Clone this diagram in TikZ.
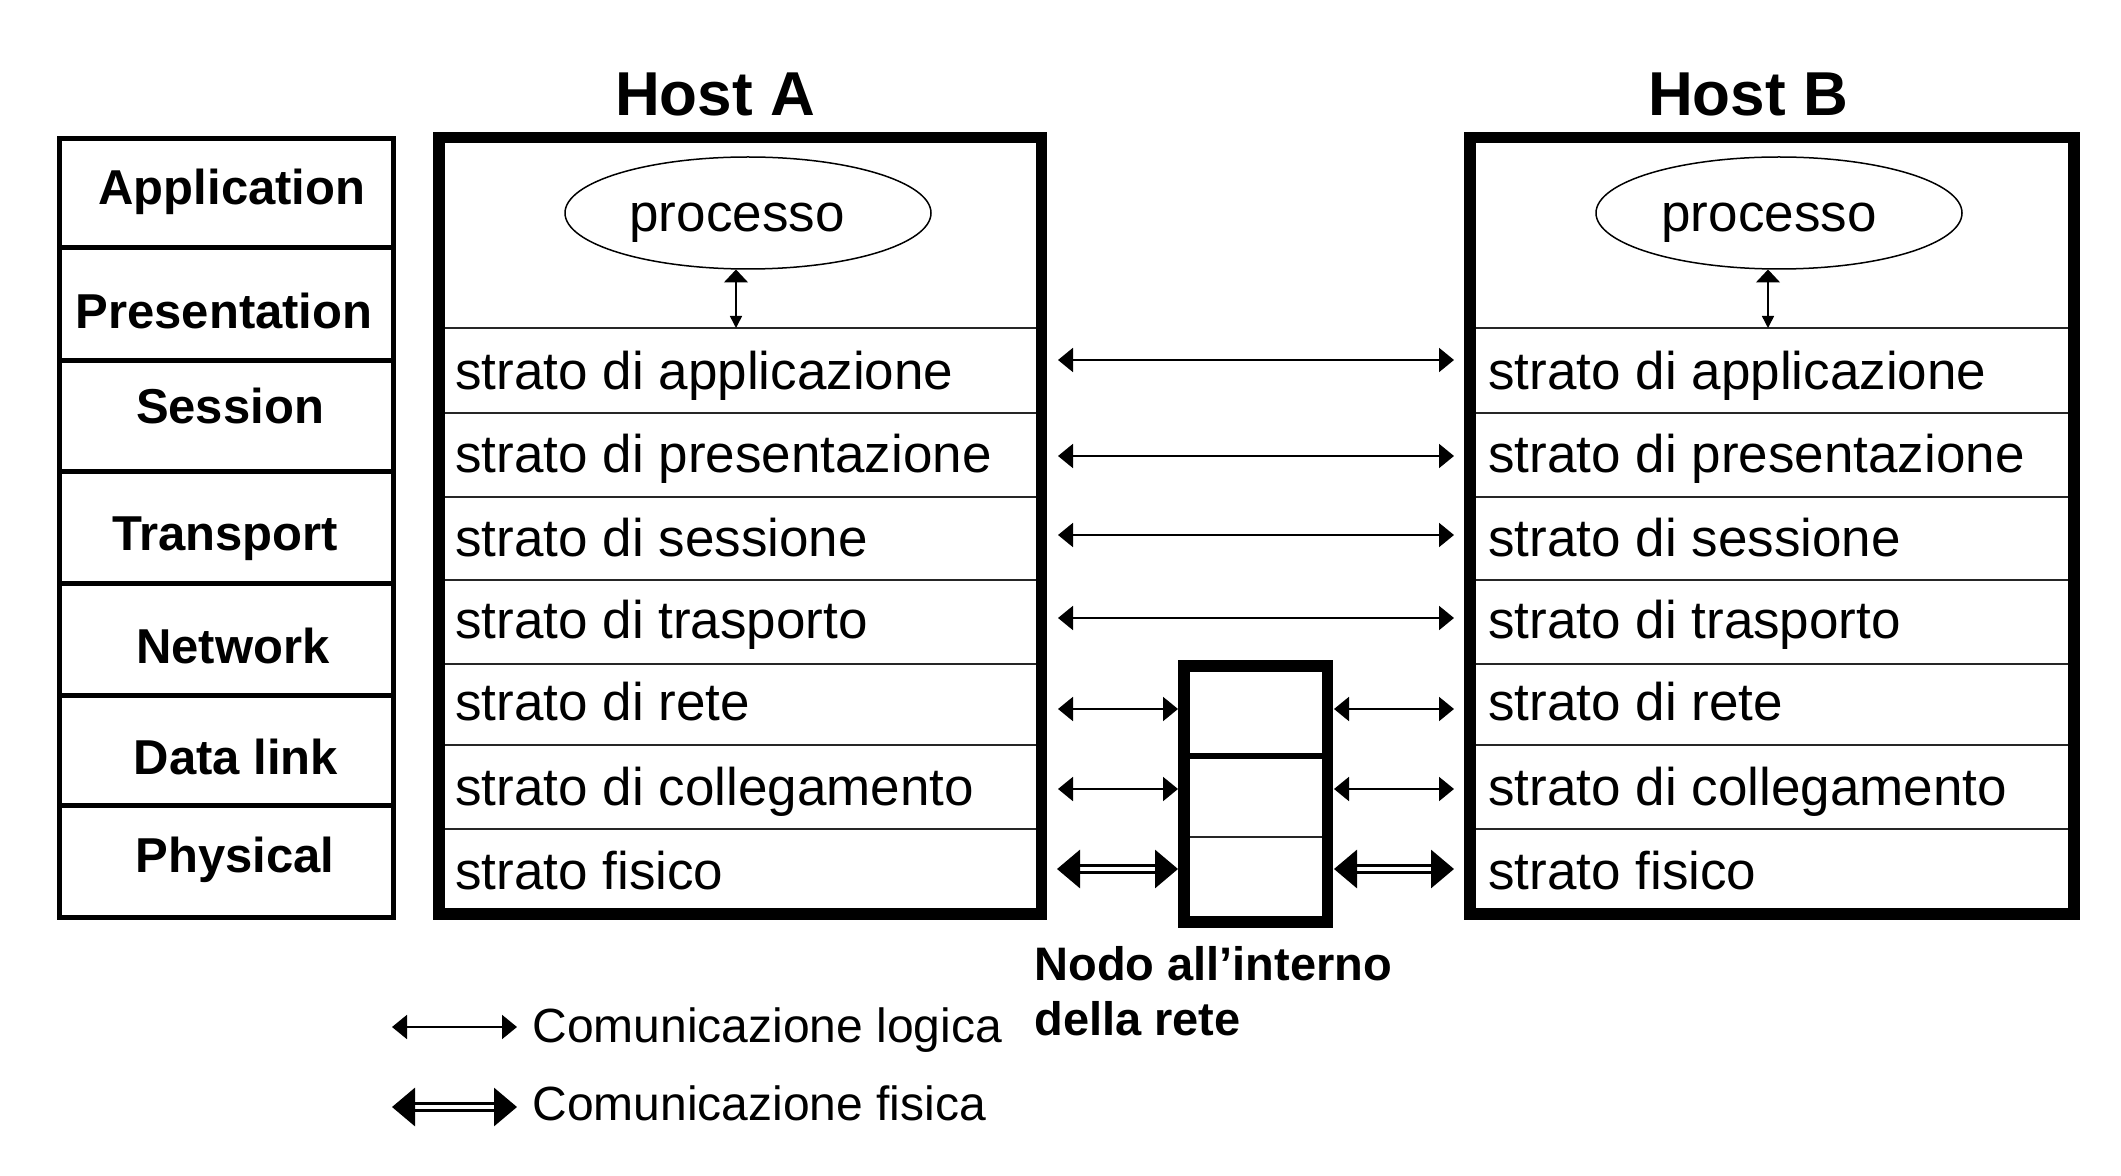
\documentclass[tikz,border=0pt]{standalone}
\usepackage{fontspec}
\setmainfont{Liberation Sans}
\usetikzlibrary{arrows.meta,shapes.geometric}
\newcommand{\fHost}{\fontsize{31pt}{36pt}\selectfont\bfseries}
\newcommand{\fOsi}{\fontsize{24.5pt}{29pt}\selectfont\bfseries}
\newcommand{\fRow}{\fontsize{26.5pt}{31pt}\selectfont}
\newcommand{\fLeg}{\fontsize{24pt}{28pt}\selectfont}
\newcommand{\fNodo}{\fontsize{23.5pt}{28pt}\selectfont\bfseries}
\tikzset{
  hostframe/.style={draw=black, line width=5.75pt},
  osiframe/.style={draw=black, line width=2.5pt},
  rowline/.style={draw=black!85, line width=1pt},
  thickline/.style={draw=black, line width=3pt},
  osilabel/.style={anchor=base, font=\fOsi, inner sep=0pt},
  rowlabel/.style={anchor=base west, font=\fRow, inner sep=0pt},
  hostlabel/.style={anchor=base, font=\fHost, inner sep=0pt},
  leglabel/.style={anchor=base west, font=\fLeg, inner sep=0pt},
  nodolabel/.style={anchor=base west, font=\fNodo, inner sep=0pt},
  proc/.style={ellipse, draw=black, line width=0.75pt, minimum width=183pt, minimum height=56pt, inner sep=0pt},
  proclabel/.style={anchor=base, font=\fRow, inner sep=0pt},
  logic/.style={line width=1pt, {Triangle[length=7.5pt,width=12pt]}-{Triangle[length=7.5pt,width=12pt]}},
  phys/.style={double, double distance=1.6pt, line width=1.6pt, {Triangle[length=11.5pt,width=19pt]}-{Triangle[length=11.5pt,width=19pt]}},
  vert/.style={line width=0.75pt, {Triangle[length=6.5pt,width=12pt]}-{Triangle[length=6pt,width=6pt]}}
}
\begin{document}
\begin{tikzpicture}[x=0.5pt,y=-0.5pt]
\fill[white] (0,0) rectangle (2121,1176);
\useasboundingbox (0,0) rectangle (2121,1176);

% ---------- OSI column ----------
\draw[osiframe] (59.2,138.5) rectangle (393,917.5);
\foreach \yy in {248,361,472,583,695,805}
  \draw[osiframe] (59.2,\yy) -- (393,\yy);
\node[osilabel] (osiApp)  at (232,205) {Application};
\node[osilabel] (osiPres) at (224,329) {Presentation};
\node[osilabel] (osiSess) at (230,424) {Session};
\node[osilabel] (osiTran) at (225,551) {Transport};
\node[osilabel] (osiNet)  at (233,663) {Network};
\node[osilabel] (osiData) at (236,774) {Data link};
\node[osilabel] (osiPhys) at (235,872) {Physical};

% ---------- Host A ----------
\node[hostlabel] (hostAlbl) at (715,116) {Host A};
\foreach \yy in {328,413,497,580,664,745,829}
  \draw[rowline] (445,\yy) -- (1036,\yy);
\draw[hostframe] (439,137.5) rectangle (1041.5,914);
\node[proc] (procA) at (748,213) {};
\node[proclabel] (procAlbl) at (737,232) {processo};
\coordinate (pA1) at (736,269.5);
\coordinate (pA2) at (736,328);
\draw[vert] (pA1) -- (pA2);
\node[rowlabel] (a1) at (455,390) {strato di applicazione};
\node[rowlabel] (a2) at (455,473) {strato di presentazione};
\node[rowlabel] (a3) at (455,557) {strato di sessione};
\node[rowlabel] (a4) at (455,638) {strato di trasporto};
\node[rowlabel] (a5) at (455,720) {strato di rete};
\node[rowlabel] (a6) at (455,805) {strato di collegamento};
\node[rowlabel] (a7) at (455,889) {strato fisico};

% ---------- Host B ----------
\node[hostlabel] (hostBlbl) at (1748,116) {Host B};
\foreach \yy in {328,413,497,580,664,745,829}
  \draw[rowline] (1476,\yy) -- (2068,\yy);
\draw[hostframe] (1470,137.5) rectangle (2074,914);
\node[proc] (procB) at (1779,213) {};
\node[proclabel] (procBlbl) at (1769,232) {processo};
\coordinate (pB1) at (1768,269.5);
\coordinate (pB2) at (1768,328);
\draw[vert] (pB1) -- (pB2);
\node[rowlabel] (b1) at (1488,390) {strato di applicazione};
\node[rowlabel] (b2) at (1488,473) {strato di presentazione};
\node[rowlabel] (b3) at (1488,557) {strato di sessione};
\node[rowlabel] (b4) at (1488,638) {strato di trasporto};
\node[rowlabel] (b5) at (1488,720) {strato di rete};
\node[rowlabel] (b6) at (1488,805) {strato di collegamento};
\node[rowlabel] (b7) at (1488,889) {strato fisico};

% ---------- intermediate node ----------
\draw[thickline] (1190,756) -- (1322,756);
\draw[rowline] (1190,837) -- (1322,837);
\draw[hostframe] (1184,666) rectangle (1327.5,922);

% ---------- connectors ----------
\coordinate (lA1) at (1058,360); \coordinate (rB1) at (1454,360);
\coordinate (lA2) at (1058,456); \coordinate (rB2) at (1454,456);
\coordinate (lA3) at (1058,535); \coordinate (rB3) at (1454,535);
\coordinate (lA4) at (1058,618); \coordinate (rB4) at (1454,618);
\draw[logic] (lA1) -- (rB1);
\draw[logic] (lA2) -- (rB2);
\draw[logic] (lA3) -- (rB3);
\draw[logic] (lA4) -- (rB4);
\coordinate (lA5) at (1058,709); \coordinate (nL5) at (1178,709);
\coordinate (nR5) at (1334,709); \coordinate (rB5) at (1454,709);
\coordinate (lA6) at (1058,789); \coordinate (nL6) at (1178,789);
\coordinate (nR6) at (1334,789); \coordinate (rB6) at (1454,789);
\coordinate (lA7) at (1057,869); \coordinate (nL7) at (1178,869);
\coordinate (nR7) at (1334,869); \coordinate (rB7) at (1454,869);
\draw[logic] (lA5) -- (nL5);
\draw[logic] (nR5) -- (rB5);
\draw[logic] (lA6) -- (nL6);
\draw[logic] (nR6) -- (rB6);
\draw[phys] (lA7) -- (nL7);
\draw[phys] (nR7) -- (rB7);

% ---------- labels below ----------
\node[nodolabel] (nodo1) at (1034,980) {Nodo all’interno};
\node[nodolabel] (nodo2) at (1034,1035) {della rete};

% ---------- legend ----------
\coordinate (lg1a) at (392,1027); \coordinate (lg1b) at (517,1027);
\coordinate (lg2a) at (392,1107); \coordinate (lg2b) at (517,1107);
\draw[logic] (lg1a) -- (lg1b);
\draw[phys] (lg2a) -- (lg2b);
\node[leglabel] (leg1) at (532,1042) {Comunicazione logica};
\node[leglabel] (leg2) at (532,1120) {Comunicazione fisica};
\end{tikzpicture}
\end{document}
